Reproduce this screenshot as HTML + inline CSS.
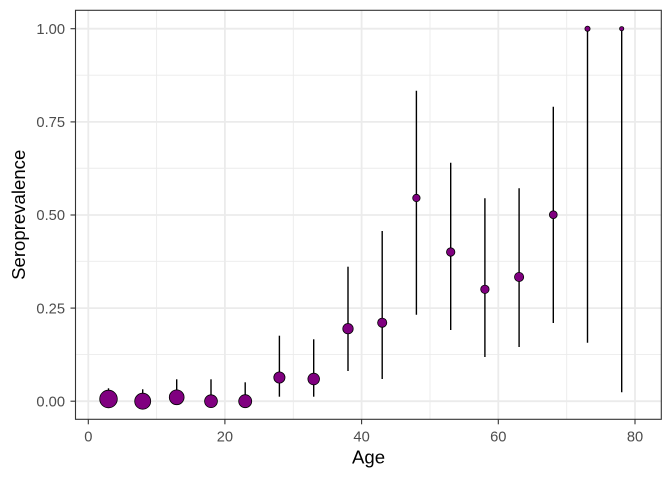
<!DOCTYPE html>
<html>
<head>
<meta charset="utf-8">
<style>
html,body{margin:0;padding:0;background:#fff;}
svg{display:block;}
text{font-family:"Liberation Sans",Arial,sans-serif;}
</style>
</head>
<body>
<svg width="672" height="480" viewBox="0 0 672 480" xmlns="http://www.w3.org/2000/svg">
<rect x="0" y="0" width="672" height="480" fill="#fff"/>
<!-- minor grid -->
<g stroke="#EBEBEB" stroke-width="0.9" fill="none">
<line x1="75.5" x2="661.3" y1="354.45" y2="354.45"/>
<line x1="75.5" x2="661.3" y1="261.35" y2="261.35"/>
<line x1="75.5" x2="661.3" y1="168.25" y2="168.25"/>
<line x1="75.5" x2="661.3" y1="75.15" y2="75.15"/>
<line y1="10.3" y2="419.3" x1="156.6" x2="156.6"/>
<line y1="10.3" y2="419.3" x1="293.3" x2="293.3"/>
<line y1="10.3" y2="419.3" x1="430" x2="430"/>
<line y1="10.3" y2="419.3" x1="566.7" x2="566.7"/>
</g>
<!-- major grid -->
<g stroke="#EBEBEB" stroke-width="1.8" fill="none">
<line x1="75.5" x2="661.3" y1="401.2" y2="401.2"/>
<line x1="75.5" x2="661.3" y1="308.1" y2="308.1"/>
<line x1="75.5" x2="661.3" y1="215" y2="215"/>
<line x1="75.5" x2="661.3" y1="121.9" y2="121.9"/>
<line x1="75.5" x2="661.3" y1="28.7" y2="28.7"/>
<line y1="10.3" y2="419.3" x1="88.3" x2="88.3"/>
<line y1="10.3" y2="419.3" x1="224.9" x2="224.9"/>
<line y1="10.3" y2="419.3" x1="361.6" x2="361.6"/>
<line y1="10.3" y2="419.3" x1="498.3" x2="498.3"/>
<line y1="10.3" y2="419.3" x1="635" x2="635"/>
</g>
<!-- error bars -->
<g stroke="#000" stroke-width="1.4" fill="none">
<line x1="108.5" x2="108.5" y1="388.3" y2="401"/>
<line x1="142.7" x2="142.7" y1="389.3" y2="401"/>
<line x1="176.7" x2="176.7" y1="379.3" y2="401"/>
<line x1="211" x2="211" y1="379.3" y2="401"/>
<line x1="245.2" x2="245.2" y1="382.3" y2="401"/>
<line x1="279.4" x2="279.4" y1="335.7" y2="396.7"/>
<line x1="313.7" x2="313.7" y1="339.3" y2="396.7"/>
<line x1="348" x2="348" y1="266.7" y2="371"/>
<line x1="382.2" x2="382.2" y1="231" y2="379"/>
<line x1="416.4" x2="416.4" y1="90.7" y2="314.7"/>
<line x1="450.7" x2="450.7" y1="162.7" y2="330"/>
<line x1="484.9" x2="484.9" y1="198.3" y2="357"/>
<line x1="519.1" x2="519.1" y1="188.3" y2="347"/>
<line x1="553.3" x2="553.3" y1="106.7" y2="323"/>
<line x1="587.5" x2="587.5" y1="28.7" y2="342.7"/>
<line x1="621.7" x2="621.7" y1="28.7" y2="392.3"/>
</g>
<!-- points -->
<g fill="#800080" stroke="#000" stroke-width="0.8">
<circle cx="108.5" cy="399" r="8.8"/>
<circle cx="142.7" cy="401.2" r="8"/>
<circle cx="176.7" cy="397.3" r="7.4"/>
<circle cx="211" cy="401.2" r="6.4"/>
<circle cx="245.2" cy="401.2" r="6.5"/>
<circle cx="279.4" cy="377.5" r="5.6"/>
<circle cx="313.7" cy="379" r="5.8"/>
<circle cx="348" cy="328.7" r="5.2"/>
<circle cx="382.2" cy="322.7" r="4.6"/>
<circle cx="416.4" cy="198" r="3.7"/>
<circle cx="450.7" cy="252" r="4.2"/>
<circle cx="484.9" cy="289.3" r="4.2"/>
<circle cx="519.1" cy="277" r="4.6"/>
<circle cx="553.3" cy="214.7" r="3.9"/>
<circle cx="587.5" cy="28.7" r="2.6"/>
<circle cx="621.7" cy="28.7" r="2.1"/>
</g>
<!-- panel border -->
<rect x="75.5" y="10.3" width="585.8" height="409" fill="none" stroke="#333333" stroke-width="1.1"/>
<!-- y ticks -->
<g stroke="#333333" stroke-width="1.1">
<line x1="70.5" x2="75.5" y1="401.2" y2="401.2"/>
<line x1="70.5" x2="75.5" y1="308.1" y2="308.1"/>
<line x1="70.5" x2="75.5" y1="215" y2="215"/>
<line x1="70.5" x2="75.5" y1="121.9" y2="121.9"/>
<line x1="70.5" x2="75.5" y1="28.7" y2="28.7"/>
<line y1="419.3" y2="424.3" x1="88.3" x2="88.3"/>
<line y1="419.3" y2="424.3" x1="224.9" x2="224.9"/>
<line y1="419.3" y2="424.3" x1="361.6" x2="361.6"/>
<line y1="419.3" y2="424.3" x1="498.3" x2="498.3"/>
<line y1="419.3" y2="424.3" x1="635" x2="635"/>
</g>
<g fill="#4D4D4D" font-size="14.7" text-anchor="end">
<text x="65" y="406.4">0.00</text>
<text x="65" y="313.3">0.25</text>
<text x="65" y="220.2">0.50</text>
<text x="65" y="127.1">0.75</text>
<text x="65" y="33.9">1.00</text>
</g>
<g fill="#4D4D4D" font-size="14.7" text-anchor="middle">
<text x="88.3" y="441.3">0</text>
<text x="224.9" y="441.3">20</text>
<text x="361.6" y="441.3">40</text>
<text x="498.3" y="441.3">60</text>
<text x="635" y="441.3">80</text>
</g>
<text x="368.5" y="463.5" font-size="18.6" text-anchor="middle" fill="#000">Age</text>
<text transform="translate(25.2,214.8) rotate(-90)" font-size="18.6" text-anchor="middle" fill="#000">Seroprevalence</text>
</svg>
</body>
</html>
